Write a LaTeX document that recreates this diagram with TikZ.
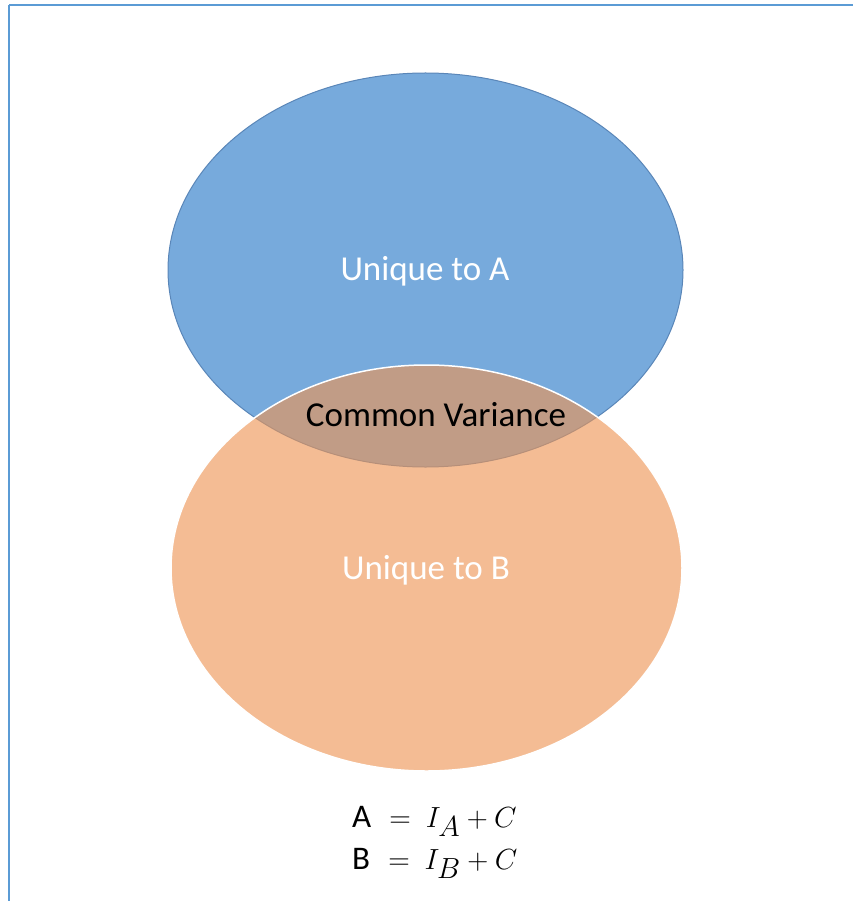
\documentclass[tikz,border=0pt]{standalone}
\usepackage{fontspec}
\setmainfont{Carlito}
\usetikzlibrary{shapes.geometric,positioning}
\definecolor{frameBlue}{HTML}{5B9BD5}
\definecolor{setBlue}{HTML}{77AADC}
\definecolor{setBlueLine}{HTML}{5A86B8}
\definecolor{setOrange}{RGB}{237,149,85}

\begin{document}
\begin{tikzpicture}[x=1pt,y=1pt,font=\fontsize{35}{42}\selectfont,
  venn/.style={ellipse,inner sep=0pt,text=white},
  eqn/.style={anchor=base west,inner sep=0pt,font=\fontsize{33}{40}\selectfont}]
  \useasboundingbox (0,0) rectangle (853,-901);
  % page frame
  \draw[frameBlue,line width=2pt] (9,-901) -- (9,-5);
  \draw[frameBlue,line width=1.4pt] (9,-5) -- (853,-5);
  % the two sets
  \node[venn,draw=setBlueLine,line width=1pt,fill=setBlue,minimum width=515,minimum height=394] (setA) at (425.5,-270) {};
  \node[venn,draw=white,line width=1.5pt,fill=setOrange,fill opacity=0.63,text opacity=1,minimum width=511,minimum height=406] (setB) at (426.5,-568) {};
  \node[text=white] (uniqA) at (425,-271) {Unique to A};
  \node[text=white] (uniqB) at (426,-570) {Unique to B};
  \node (common) at (436,-415) {Common Variance};
  \node[eqn] (eqA) at (352,-827) {A\hspace{0.55em}\scalebox{1.2}{$=$}\hspace{0.45em}\scalebox{1.17}{$I_A+C$}};
  \node[eqn] (eqB) at (352,-869) {B\hspace{0.55em}\scalebox{1.2}{$=$}\hspace{0.45em}\scalebox{1.17}{$I_B+C$}};
\end{tikzpicture}
\end{document}
